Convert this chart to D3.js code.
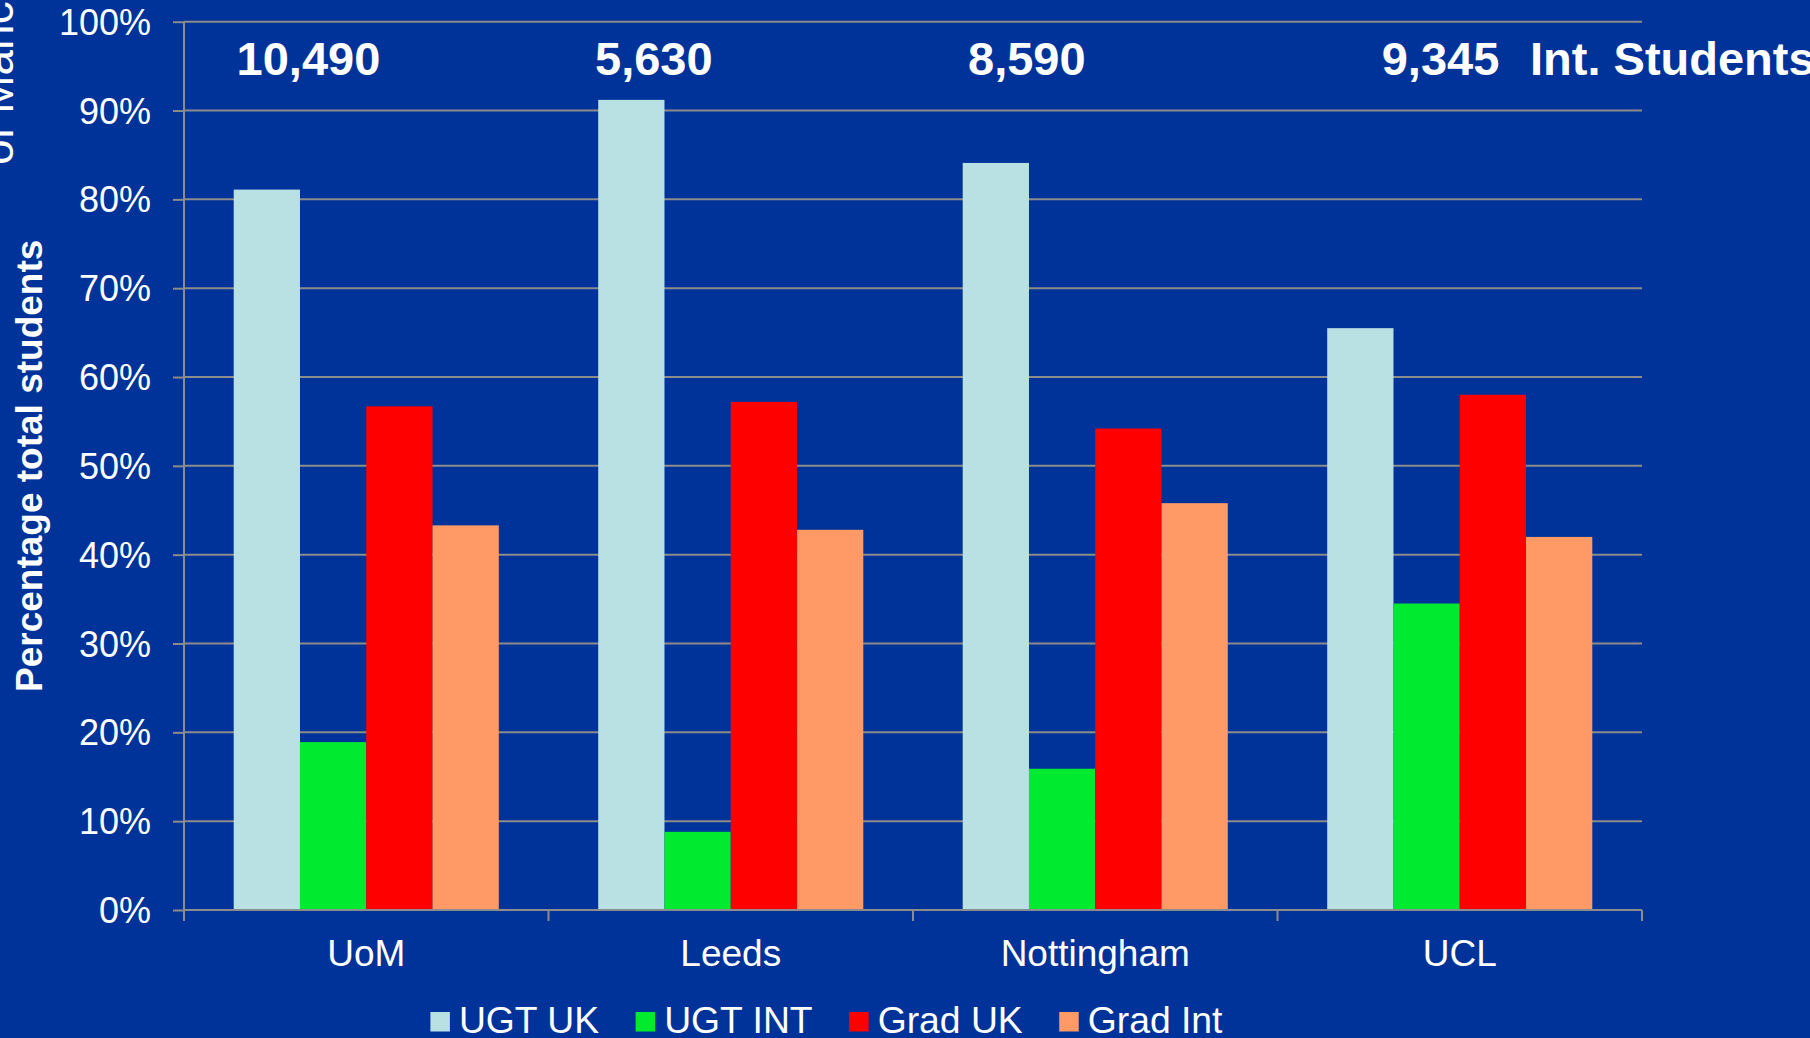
<!DOCTYPE html>
<html>
<head>
<meta charset="utf-8">
<script src="https://cdn.jsdelivr.net/npm/d3@7/dist/d3.min.js"></script>
<style>
  html, body { margin: 0; padding: 0; background: #003399; overflow: hidden; }
  svg { display: block; font-family: "Liberation Sans", Arial, Helvetica, sans-serif; }
</style>
</head>
<body>
<svg id="chart" width="1810" height="1038"></svg>
<script>
// ---------------- data ----------------
const categories = ["UoM", "Leeds", "Nottingham", "UCL"];
const seriesNames = ["UGT UK", "UGT INT", "Grad UK", "Grad Int"];
const ugtUK   = [81.1, 91.2, 84.1, 65.5];
const ugtINT  = [18.9, 8.8, 15.9, 34.5];
const gradUK  = [56.7, 57.2, 54.2, 58.0];
const gradInt = [43.3, 42.8, 45.8, 42.0];
const intStudents = ["10,490", "5,630", "8,590", "9,345"];
const intStudentsNote = "Int. Students";
const yTicks = [0, 10, 20, 30, 40, 50, 60, 70, 80, 90, 100];
const yTitle = "Percentage total students";
const sideTitle = "of Manchester";

// ---------------- style / layout ----------------
const colors = ["#B9E0E3", "#00EB30", "#FF0000", "#FF9966"];
const gridColor = "#8C8C8C";
const plotLeft = 184, plotRight = 1642, plotTop = 21.7, plotBottom = 910;
const labelX = [236.6, 595, 968, 1381.7];   // text box positions of the counts
const noteX = 1530;

const seriesValues = [ugtUK, ugtINT, gradUK, gradInt];
const table = categories.map((c, i) => ({
  cat: c,
  values: seriesNames.map((s, j) => ({ key: s, idx: j, value: seriesValues[j][i] }))
}));

const svg = d3.select("#chart");
svg.append("rect").attr("width", 1810).attr("height", 1038).attr("fill", "#003399");

const x0 = d3.scaleBand().domain(categories).range([plotLeft, plotRight]).paddingInner(0).paddingOuter(0);
const x1 = d3.scaleBand().domain(seriesNames).range([0, x0.bandwidth()]).paddingInner(0).paddingOuter(0.75);
const y = d3.scaleLinear().domain([0, 100]).range([plotBottom, plotTop]);

// gridlines
svg.append("g").selectAll("line").data(yTicks.filter(t => t > 0)).join("line")
  .attr("x1", plotLeft).attr("x2", plotRight)
  .attr("y1", d => y(d)).attr("y2", d => y(d))
  .attr("stroke", gridColor).attr("stroke-width", 2);

// bars
const groups = svg.append("g").selectAll("g").data(table).join("g")
  .attr("transform", d => `translate(${x0(d.cat)},0)`);
groups.selectAll("rect").data(d => d.values).join("rect")
  .attr("x", d => x1(d.key))
  .attr("width", x1.bandwidth())
  .attr("y", d => y(d.value))
  .attr("height", d => y(0) - y(d.value))
  .attr("fill", d => colors[d.idx]);

// y axis
const yAxis = d3.axisLeft(y).tickValues(yTicks).tickFormat(d => d + "%").tickSize(11).tickPadding(22);
const gy = svg.append("g").attr("transform", `translate(${plotLeft},0)`).call(yAxis);
gy.select(".domain").attr("stroke", gridColor).attr("stroke-width", 2)
  .attr("d", `M0,${plotTop}V${plotBottom + 11}`);
gy.selectAll(".tick line").attr("stroke", gridColor).attr("stroke-width", 2);
gy.selectAll(".tick text").attr("fill", "#fff").attr("font-size", 36)
  .attr("font-family", "Liberation Sans, Arial, sans-serif").attr("dy", "0.35em");

// x axis
const xAxis = d3.axisBottom(x0).tickSize(0).tickPadding(30);
const gx = svg.append("g").attr("transform", `translate(0,${plotBottom})`).call(xAxis);
gx.select(".domain").attr("stroke", gridColor).attr("stroke-width", 2).attr("d", `M${plotLeft},0H${plotRight}`);
gx.selectAll(".tick text").attr("fill", "#fff").attr("font-size", 37)
  .attr("font-family", "Liberation Sans, Arial, sans-serif");
// category separator ticks
const sepXs = categories.map(c => x0(c) + x0.bandwidth());
gx.append("g").selectAll("line").data(sepXs).join("line")
  .attr("x1", d => d).attr("x2", d => d).attr("y1", 0).attr("y2", 11)
  .attr("stroke", gridColor).attr("stroke-width", 2);

// y title
svg.append("text")
  .attr("transform", `translate(41.5,${(plotTop + plotBottom) / 2})rotate(-90)`)
  .attr("text-anchor", "middle")
  .attr("fill", "#fff").attr("font-weight", "bold").attr("font-size", 37)
  .text(yTitle);

// side title (clipped at the left edge, as in the source slide)
svg.append("text")
  .attr("transform", "translate(12.7,165)rotate(-90)")
  .attr("text-anchor", "start")
  .attr("fill", "#fff").attr("font-size", 46)
  .text(sideTitle);

// student counts
svg.append("g").selectAll("text").data(intStudents).join("text")
  .attr("x", (d, i) => labelX[i]).attr("y", 74.5)
  .attr("fill", "#fff").attr("font-weight", "bold").attr("font-size", 47)
  .text(d => d);
svg.append("text").attr("x", noteX).attr("y", 74.5)
  .attr("fill", "#fff").attr("font-weight", "bold").attr("font-size", 47)
  .text(intStudentsNote);

// legend
const legend = svg.append("g");
let lx = 430.4;
seriesNames.forEach((s, i) => {
  legend.append("rect").attr("x", lx).attr("y", 1012).attr("width", 19.5).attr("height", 19.5)
    .attr("fill", colors[i]);
  const t = legend.append("text").attr("x", lx + 28.5).attr("y", 1033.3)
    .attr("fill", "#fff").attr("font-size", 37.3).text(s);
  lx = lx + 28.5 + t.node().getComputedTextLength() + 36.5;
});
</script>
</body>
</html>
